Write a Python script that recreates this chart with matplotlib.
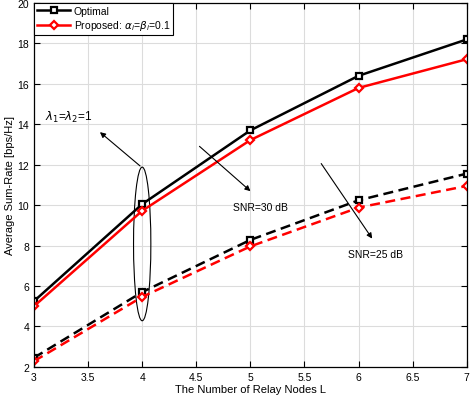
import matplotlib
matplotlib.use('Agg')
import matplotlib.pyplot as plt
from matplotlib.patches import Ellipse

plt.rcParams['font.family'] = ['Liberation Sans', 'DejaVu Sans']
plt.rcParams['mathtext.fontset'] = 'dejavusans'

L = [3, 4, 5, 6, 7]
opt_30 = [5.25, 10.05, 13.7, 16.4, 18.2]
prop_30 = [5.0, 9.72, 13.22, 15.8, 17.22]
opt_25 = [2.45, 5.7, 8.28, 10.24, 11.56]
prop_25 = [2.28, 5.46, 7.96, 9.88, 10.95]

xticks = [3, 3.5, 4, 4.5, 5, 5.5, 6, 6.5, 7]
yticks = [2, 4, 6, 8, 10, 12, 14, 16, 18, 20]

fig = plt.figure(figsize=(4.72, 4.02), dpi=100)
ax = fig.add_axes([0.072, 0.085, 0.917, 0.905])

mk = dict(markersize=4.5, markeredgewidth=1.6, markerfacecolor='white', linewidth=1.8)
ax.plot(L, opt_30, '-s', color='black', label='Optimal', **mk)
ax.plot(L, prop_30, '-D', color='red', label=r'Proposed: $\alpha_i$=$\beta_i$=0.1', **mk)
ax.plot(L, opt_25, '--s', color='black', dashes=(4, 2.2), **mk)
ax.plot(L, prop_25, '--D', color='red', dashes=(4, 2.2), **mk)

ax.set_xlim(3, 7)
ax.set_ylim(2, 20)
ax.set_xticks(xticks)
ax.set_xticklabels(['3', '3.5', '4', '4.5', '5', '5.5', '6', '6.5', '7'])
ax.set_yticks(yticks)
ax.grid(True, color='#dcdcdc', linewidth=0.8)
ax.set_axisbelow(True)
ax.tick_params(direction='in', labelsize=7.5, length=4, top=True, right=True)
for s in ax.spines.values():
    s.set_linewidth(0.9)

ax.set_xlabel('The Number of Relay Nodes L', fontsize=8, labelpad=2)
ax.set_ylabel('Average Sum-Rate [bps/Hz]', fontsize=8, labelpad=2)

ax.add_patch(Ellipse((4.0, 8.08), 0.16, 7.6, fill=False, edgecolor='black', linewidth=0.8))
arrow = dict(arrowstyle='-|>', color='black', linewidth=0.8, mutation_scale=8)
ax.annotate('', xy=(3.59, 13.7), xytext=(4.0, 11.85), arrowprops=arrow)
ax.text(3.32, 14.4, r'$\lambda_1$=$\lambda_2$=1', fontsize=8.5, ha='center', va='center')
ax.annotate('', xy=(5.02, 10.6), xytext=(4.51, 13.0), arrowprops=arrow)
ax.text(5.09, 9.9, 'SNR=30 dB', fontsize=7.5, ha='center', va='center')
ax.annotate('', xy=(6.14, 8.23), xytext=(5.64, 12.17), arrowprops=arrow)
ax.text(6.16, 7.59, 'SNR=25 dB', fontsize=7.5, ha='center', va='center')

leg = ax.legend(loc='upper left', fontsize=7.5, borderaxespad=0, fancybox=False,
                edgecolor='black', framealpha=1, handlelength=3.2, borderpad=0.3,
                labelspacing=0.2, handletextpad=0.3)
leg.get_frame().set_linewidth(0.8)

fig.savefig('out.png', dpi=100)
